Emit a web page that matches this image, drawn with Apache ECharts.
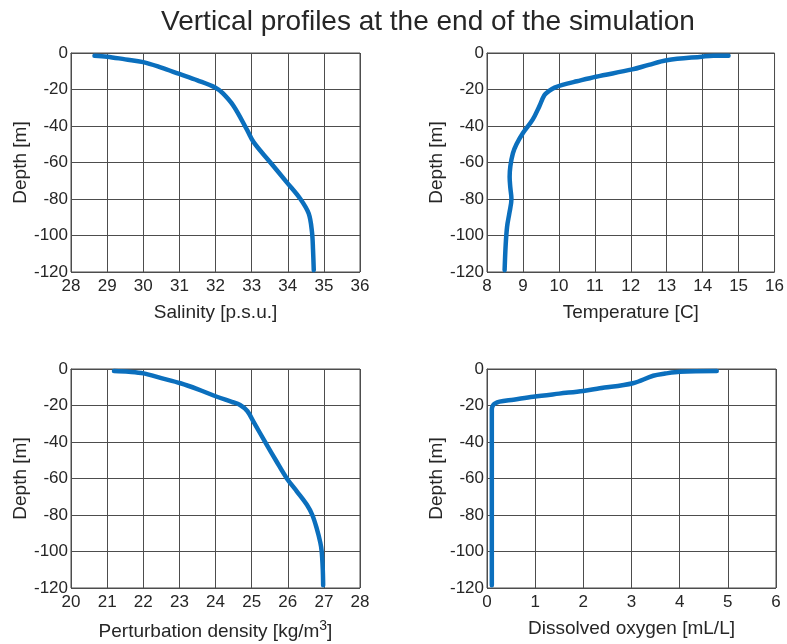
<!DOCTYPE html>
<html>
<head>
<meta charset="utf-8">
<script src="https://cdn.jsdelivr.net/npm/echarts@6/dist/echarts.min.js"></script>
<style>
  html, body { margin: 0; padding: 0; background: #fff; }
  #main { width: 787px; height: 644px; }
</style>
</head>
<body>
<div id="main"></div>
<script>
// profile data (x value, depth in m)
var salDepth = [-1.5, -2, -3.5, -5, -8, -11.5, -15, -19, -22, -29, -42, -49, -60, -71, -80, -88, -98, -108, -119];
var salinity = [28.65, 29.0, 29.5, 30.0, 30.5, 31.0, 31.5, 32.0, 32.2, 32.5, 32.87, 33.06, 33.52, 33.98, 34.35, 34.58, 34.67, 34.7, 34.72];

var tempDepth = [-1.5, -1.5, -2, -4, -6.5, -9, -13, -15.5, -17.5, -19, -20.6, -23, -29, -36.5, -43.8, -50, -55, -62, -68, -74, -80, -88, -95, -105, -119];
var temperature = [14.72, 14.3, 13.98, 13.0, 12.5, 12.04, 11.03, 10.5, 10.1, 9.88, 9.74, 9.6, 9.46, 9.27, 9.0, 8.82, 8.72, 8.65, 8.63, 8.65, 8.68, 8.62, 8.56, 8.52, 8.49];

var densDepth = [-1.1, -1.5, -2.4, -5, -7.8, -11, -15.2, -18, -19.7, -23, -28.8, -41.6, -50, -59.8, -67, -74.4, -80, -87.2, -95, -100, -110, -118.5];
var density = [21.19, 21.6, 22.01, 22.5, 23.03, 23.5, 24.04, 24.45, 24.68, 24.88, 25.05, 25.42, 25.67, 25.97, 26.25, 26.53, 26.68, 26.80, 26.9, 26.94, 26.97, 26.98];

var oxyDepth = [-1.1, -1.5, -2.5, -3.7, -7.8, -10.6, -12, -13.5, -15.2, -16.8, -17.9, -19, -20.1, -22, -40, -80, -118.5];
var oxygen = [4.77, 4.0, 3.7, 3.45, 3.03, 2.34, 2.0, 1.5, 0.96, 0.55, 0.26, 0.16, 0.12, 0.1, 0.1, 0.1, 0.1];

var depthTicks = [-120, 0, 20];   // min, max, interval
var xRanges = [[28, 36, 1], [8, 16, 1], [20, 28, 1], [0, 6, 1]];
var xNames = ['Salinity [p.s.u.]', 'Temperature [C]', '{a|Perturbation density [kg/m}{s|3}{a|]}', 'Dissolved oxygen [mL/L]'];

function pairs(xs, ys) {
  var out = [];
  for (var i = 0; i < xs.length; i++) out.push([xs[i], ys[i]]);
  return out;
}

var fontFam = '"Liberation Sans", Arial, Helvetica, sans-serif';
var gridColor = '#4d4d4d';
var lineColor = '#0b6fbd';
var textColor = '#262626';

var grids = [
  { left: 71, top: 53, width: 289, height: 219 },
  { left: 487, top: 53, width: 289, height: 219 },
  { left: 71, top: 369, width: 289, height: 219 },
  { left: 487, top: 369, width: 289, height: 219 }
];

var xAxes = [], yAxes = [], series = [];
var allData = [pairs(salinity, salDepth), pairs(temperature, tempDepth), pairs(density, densDepth), pairs(oxygen, oxyDepth)];

for (var i = 0; i < 4; i++) {
  grids[i].show = true;
  grids[i].borderColor = gridColor;
  grids[i].borderWidth = 1;
  grids[i].containLabel = false;

  xAxes.push({
    type: 'value',
    gridIndex: i,
    min: xRanges[i][0],
    max: xRanges[i][1],
    interval: xRanges[i][2],
    name: xNames[i],
    nameLocation: 'middle',
    nameGap: 31,
    nameTextStyle: {
      fontSize: 19, color: textColor, fontFamily: fontFam,
      rich: {
        a: { fontSize: 19, color: textColor, fontFamily: fontFam },
        s: { fontSize: 14, color: textColor, fontFamily: fontFam, padding: [0, 0, 11, 0] }
      }
    },
    axisLine: { show: true, lineStyle: { color: gridColor, width: 1 } },
    axisTick: { show: false },
    axisLabel: { fontSize: 17, color: textColor, fontFamily: fontFam, margin: 6 },
    splitLine: { show: true, lineStyle: { color: gridColor, width: 1 } }
  });

  yAxes.push({
    type: 'value',
    gridIndex: i,
    min: depthTicks[0],
    max: depthTicks[1],
    interval: depthTicks[2],
    name: 'Depth [m]',
    nameLocation: 'middle',
    nameGap: 41,
    nameTextStyle: { fontSize: 19, color: textColor, fontFamily: fontFam },
    axisLine: { show: true, lineStyle: { color: gridColor, width: 1 } },
    axisTick: { show: false },
    axisLabel: { fontSize: 17, color: textColor, fontFamily: fontFam, margin: 3 },
    splitLine: { show: true, lineStyle: { color: gridColor, width: 1 } }
  });

  series.push({
    type: 'line',
    xAxisIndex: i,
    yAxisIndex: i,
    data: allData[i],
    smooth: 0.35,
    showSymbol: false,
    symbol: 'none',
    lineStyle: { color: lineColor, width: 4.5, cap: 'round', join: 'round' },
    silent: true,
    animation: false
  });
}

var myChart = echarts.init(document.getElementById('main'));
var option = {
  backgroundColor: '#ffffff',
  animation: false,
  title: {
    text: 'Vertical profiles at the end of the simulation',
    left: 423,
    top: 3,
    textAlign: 'center',
    textStyle: { fontSize: 28, fontWeight: 'normal', color: textColor, fontFamily: fontFam }
  },
  grid: grids,
  xAxis: xAxes,
  yAxis: yAxes,
  series: series
};
myChart.setOption(option);
</script>
</body>
</html>
